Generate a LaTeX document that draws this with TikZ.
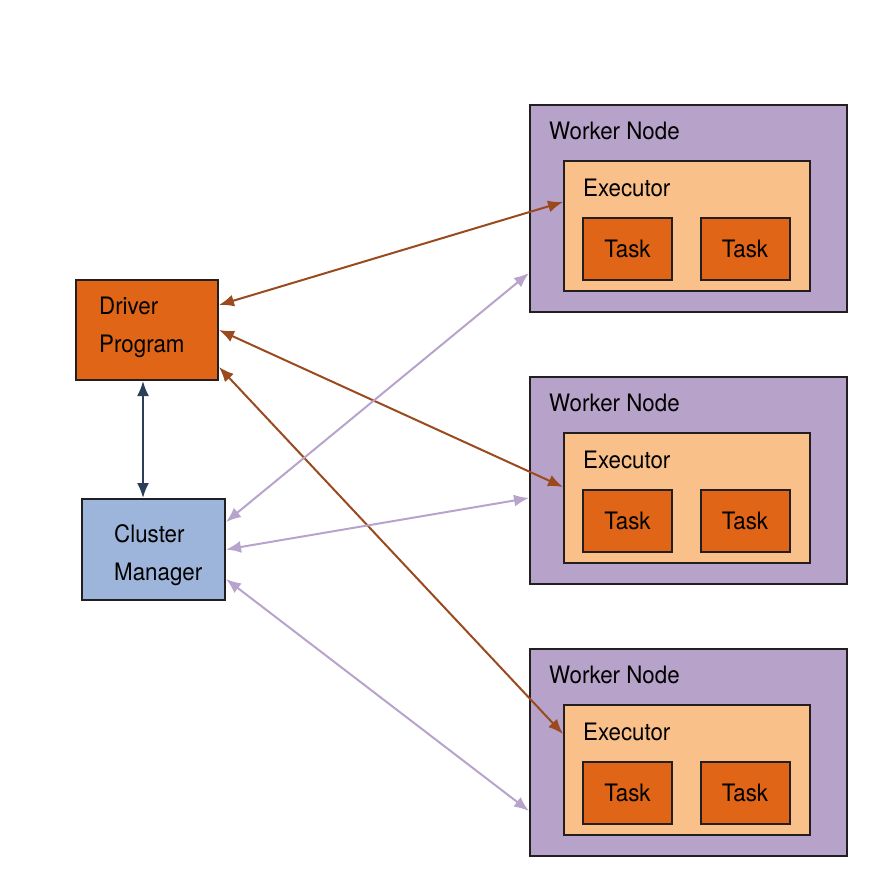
\documentclass[tikz,border=0pt]{standalone}
\usepackage{fontspec}
\setmainfont{TeX Gyre Heros}[FakeStretch=0.93]
\usetikzlibrary{arrows.meta,positioning}
\definecolor{drvorange}{HTML}{E06516}
\definecolor{clublue}{HTML}{9DB5DA}
\definecolor{wrklilac}{HTML}{B7A2C9}
\definecolor{exepeach}{HTML}{F9C08A}
\definecolor{edgedark}{HTML}{231F20}
\definecolor{linkbrown}{HTML}{9A4A1E}
\definecolor{linklilac}{HTML}{B7A3CC}
\definecolor{linknavy}{HTML}{2C3E5A}

\begin{document}
\begin{tikzpicture}[x=1pt,y=-1pt]
                \tikzset{every node/.style={font=\fontsize{24}{29}\selectfont, text=black},
                  box/.style={draw=edgedark, line width=2pt, inner sep=0pt, align=center},
                  worker/.style={box, fill=wrklilac, minimum width=317, minimum height=207},
                  executor/.style={box, fill=exepeach, minimum width=246, minimum height=130},
                  task/.style={box, fill=drvorange, minimum width=89, minimum height=62},
                  tag/.style={anchor=west, inner sep=0pt},
                  link/.style={line width=2pt, {Latex[length=15pt,width=12pt]}-{Latex[length=15pt,width=12pt]}}}
                \useasboundingbox (0,0) rectangle (872,874);
                % driver and cluster manager
                \node [box, fill=drvorange, minimum width=142, minimum height=100] (driver) at (147,330) {};
                \node [tag] (drivertag) at (99,328) {\begin{tabular}{@{}l@{}}Driver\\[9pt]Program\end{tabular}};
                \node [box, fill=clublue, minimum width=143, minimum height=101] (cluster) at (153.5,549.5) {};
                \node [tag] (clustertag) at (114,556) {\begin{tabular}{@{}l@{}}Cluster\\[9pt]Manager\end{tabular}};
                % worker 1
                \node [worker] (wrk1) at (688.5,208.5) {};
                \node [tag] (wrk1tag) at (549,131) {Worker Node};
                \node [executor] (exe1) at (687,226) {};
                \node [tag] (exe1tag) at (583,188) {Executor};
                \node [task] (task1a) at (627.5,249) {Task};
                \node [task] (task1b) at (745,249) {Task};
                % worker 2
                \node [worker] (wrk2) at (688.5,480.5) {};
                \node [tag] (wrk2tag) at (549,403) {Worker Node};
                \node [executor] (exe2) at (687,498) {};
                \node [tag] (exe2tag) at (583,460) {Executor};
                \node [task] (task2a) at (627.5,521) {Task};
                \node [task] (task2b) at (745,521) {Task};
                % worker 3
                \node [worker] (wrk3) at (688.5,752.5) {};
                \node [tag] (wrk3tag) at (549,675) {Worker Node};
                \node [executor] (exe3) at (687,770) {};
                \node [tag] (exe3tag) at (583,732) {Executor};
                \node [task] (task3a) at (627.5,793) {Task};
                \node [task] (task3b) at (745,793) {Task};
                % links
                \draw [link, linknavy] ([xshift=-4pt]driver.south) -- ([xshift=-10.5pt]cluster.north);
                \draw [link, linkbrown] ([yshift=-26pt]driver.north east) -- ([yshift=-42pt]exe1.north west);
                \draw [link, linkbrown] (driver.east) -- ([yshift=-55pt]exe2.north west);
                \draw [link, linkbrown] ([yshift=14pt]driver.south east) -- ([yshift=-30pt]exe3.north west);
                \draw [link, linklilac] ([yshift=-24pt]cluster.north east) -- ([yshift=40pt]wrk1.south west);
                \draw [link, linklilac] (cluster.east) -- ([yshift=-122pt]wrk2.north west);
                \draw [link, linklilac] ([yshift=22pt]cluster.south east) -- ([yshift=46pt]wrk3.south west);
            \end{tikzpicture}
\end{document}
